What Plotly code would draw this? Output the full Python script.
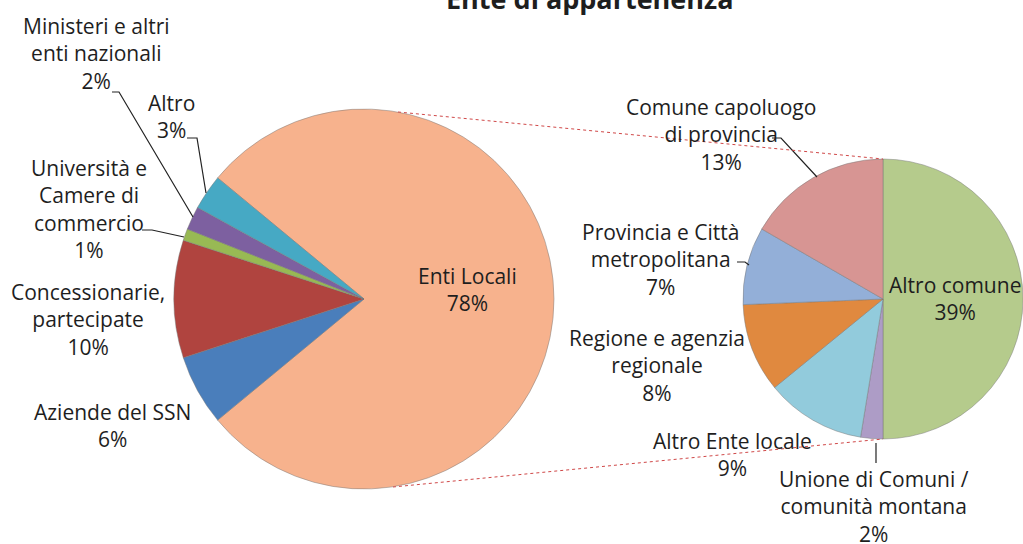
import plotly.graph_objects as go

W, H = 1023, 544

# primo grafico: ente di appartenenza
main_labels = ['Enti Locali', 'Aziende del SSN', 'Concessionarie,<br>partecipate',
               'Università e<br>Camere di<br>commercio',
               'Ministeri e altri<br>enti nazionali', 'Altro']
main_values = [78, 6, 10, 1, 2, 3]
main_colors = ['#F7B28D', '#4A7EBB', '#B0443F', '#98B954', '#7D60A0', '#46A9C4']

# secondo grafico: dettaglio enti locali (% sul totale)
sub_labels = ['Altro comune', 'Unione di Comuni /<br>comunità montana', 'Altro Ente locale',
              'Regione e agenzia<br>regionale', 'Provincia e Città<br>metropolitana',
              'Comune capoluogo<br>di provincia']
sub_values = [39, 2, 9, 8, 7, 13]
sub_colors = ['#B5CB8C', '#AD9CC6', '#92CBDC', '#E0893F', '#93AFD8', '#D79593']

TEXT = '#1E1E1E'
FONT = 'Open Sans'


def px(x, y):
    return x / W, 1 - y / H


# label centres (pixels)
main_pos = [(467, 289), (112, 425), (88, 319), (89, 209), (96, 54), (171, 116)]
sub_pos = [(955, 298), (874, 506), (732, 454), (657, 365), (660, 259), (721, 134)]

# pie placement (pixels)
L_CX, L_CY, L_R = 364, 299, 190
R_X0, R_X1, R_Y0, R_Y1 = 743, 1023, 157, 441

fig = go.Figure()
fig.add_trace(go.Pie(
    labels=main_labels, values=main_values, sort=False, direction='clockwise',
    rotation=-50.4, textinfo='none', hoverinfo='label+percent',
    marker=dict(colors=main_colors, line=dict(color='rgba(120,120,120,0.6)', width=0.8)),
    domain=dict(x=[(L_CX - L_R) / W, (L_CX + L_R) / W],
                y=[1 - (L_CY + L_R) / H, 1 - (L_CY - L_R) / H]),
))
fig.add_trace(go.Pie(
    labels=sub_labels, values=sub_values, sort=False, direction='clockwise',
    rotation=0, textinfo='none', hoverinfo='label+value',
    marker=dict(colors=sub_colors, line=dict(color='rgba(120,120,120,0.6)', width=0.8)),
    domain=dict(x=[R_X0 / W, R_X1 / W], y=[1 - R_Y1 / H, 1 - R_Y0 / H]),
))

annotations = []
for lab, val, (x, y) in list(zip(main_labels, main_values, main_pos)) + \
        list(zip(sub_labels, sub_values, sub_pos)):
    ax, ay = px(x, y)
    annotations.append(dict(
        x=ax, y=ay, xref='paper', yref='paper', showarrow=False,
        xanchor='center', yanchor='middle', align='center',
        text=f'{lab}<br>{val}%', font=dict(family=FONT, size=21, color=TEXT),
    ))

# titolo, tagliato dal bordo superiore come nell'originale
tx, ty = px(590, -1.5)
annotations.append(dict(
    x=tx, y=ty, xref='paper', yref='paper', showarrow=False,
    xanchor='center', yanchor='middle', text='<b>Ente di appartenenza</b>',
    font=dict(family=FONT, size=27, color=TEXT),
))

shapes = []


def path(points, color, width=1.2, dash='solid'):
    d = ''
    for i, (x, y) in enumerate(points):
        a, b = px(x, y)
        d += ('M' if i == 0 else 'L') + f' {a:.5f} {b:.5f} '
    shapes.append(dict(type='path', path=d, xref='paper', yref='paper',
                       line=dict(color=color, width=width, dash=dash)))


# leader lines
path([(112, 92), (119, 92), (193, 217)], '#222222')
path([(187, 138), (197, 138), (206, 193)], '#222222')
path([(142, 230), (152, 230), (184, 237)], '#222222')
path([(772, 138), (781, 138), (817, 177)], '#222222')
path([(737, 262), (745, 262), (749, 265)], '#222222')
path([(876, 443), (876, 463)], '#222222')

# connectors between the two pies
r_cx = (R_X0 + R_X1) / 2
r_cy = (R_Y0 + R_Y1) / 2
r_r = min(R_X1 - R_X0, R_Y1 - R_Y0) / 2
path([(398, 112), (r_cx, r_cy - r_r)], '#D04848', width=1, dash='dot')
path([(393, 487), (r_cx, r_cy + r_r)], '#D04848', width=1, dash='dot')

fig.update_layout(
    width=W, height=H,
    margin=dict(l=0, r=0, t=0, b=0),
    paper_bgcolor='white', plot_bgcolor='white',
    showlegend=False,
    annotations=annotations,
    shapes=shapes,
)

fig.write_html('out.html', config={'displayModeBar': False},
               post_script="document.body.style.margin = '0';")
